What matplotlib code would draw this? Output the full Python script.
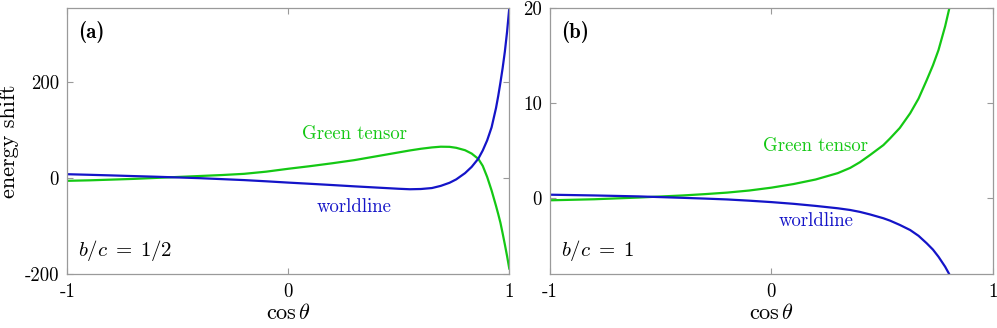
import numpy as np
import matplotlib
matplotlib.use("Agg")
import matplotlib.pyplot as plt

# values
x_a = [-1.0, -0.9, -0.8, -0.7, -0.6, -0.5, -0.4, -0.3, -0.2, -0.1, 0.0, 0.1, 0.2,
       0.3, 0.4, 0.5, 0.55, 0.6, 0.65, 0.69, 0.73, 0.76, 0.8, 0.83, 0.86, 0.88,
       0.9, 0.92, 0.94, 0.95, 0.96, 0.97, 0.98, 0.99, 1.0]
worldline_a = [7.7, 6.5, 5.2, 3.8, 2.5, 1.0, -0.5, -2.5, -4.5, -7.0, -9.7, -12.2,
               -14.8, -17.5, -20.0, -22.5, -23.5, -23.0, -21.0, -16.5, -10.0, -3.0,
               10.0, 23.0, 40.0, 57.0, 78.0, 105.0, 145.0, 170.0, 198.0, 228.0,
               262.0, 303.0, 352.0]
green_a = [-6.0, -5.0, -3.5, -2.0, 0.0, 2.0, 4.0, 6.0, 8.5, 13.0, 19.0, 24.5, 30.5,
           37.0, 45.0, 53.0, 57.0, 60.5, 63.3, 64.8, 64.5, 62.5, 57.5, 50.5, 39.5,
           25.0, 2.0, -26.0, -58.0, -75.0, -93.0, -115.0, -138.0, -162.0, -188.0]

x_b = [-1.0, -0.8, -0.6, -0.4, -0.3, -0.2, -0.1, 0.0, 0.1, 0.2, 0.3, 0.356,
       0.4, 0.446, 0.506, 0.536, 0.58, 0.627, 0.665, 0.702, 0.73, 0.755, 0.785,
       0.804, 0.83, 0.85]
worldline_b = [0.38, 0.3, 0.2, 0.05, -0.03, -0.12, -0.25, -0.4, -0.58, -0.8, -1.05,
               -1.23, -1.43, -1.7, -2.1, -2.35, -2.8, -3.34, -3.95, -4.74, -5.4,
               -6.15, -7.2, -8.0, -9.4, -11.0]
green_b = [-0.21, -0.1, 0.08, 0.3, 0.44, 0.6, 0.82, 1.12, 1.5, 1.98, 2.65, 3.2,
           3.8, 4.56, 5.6, 6.3, 7.4, 8.95, 10.5, 12.45, 14.0, 15.6, 18.1, 20.0,
           23.0, 26.0]

xticks = [-1, 0, 1]
xticklabels = ['-1', '0', '1']
yticks_a = [-200, 0, 200]
yticklabels_a = ['-200', '0', '200']
yticks_b = [0, 10, 20]
yticklabels_b = ['0', '10', '20']

plt.rcParams['font.family'] = ['cmr10', 'DejaVu Serif']
plt.rcParams['mathtext.fontset'] = 'cm'
plt.rcParams['axes.unicode_minus'] = False

BLUE = '#1414c8'
GREEN = '#14c814'
GRAY = '#9a9a9a'

fig = plt.figure(figsize=(9.97, 3.28), dpi=100)
ax1 = fig.add_axes([0.0675, 0.1637, 0.4433, 0.811])
ax2 = fig.add_axes([0.5517, 0.1637, 0.444, 0.811])


def style(ax, yticks, ylabels, ylim):
    ax.set_xlim(-1, 1)
    ax.set_ylim(*ylim)
    ax.set_xticks(xticks)
    ax.set_xticklabels(xticklabels)
    ax.set_yticks(yticks)
    ax.set_yticklabels(ylabels)
    ax.tick_params(direction='in', length=4, width=0.8, color=GRAY,
                   top=True, right=True, labelsize=13.5, pad=6)
    for s in ax.spines.values():
        s.set_color(GRAY)
        s.set_linewidth(0.9)
    ax.set_xlabel(r'$\cos\theta$', fontsize=16, labelpad=2)


ax1.plot(x_a, green_a, color=GREEN, lw=1.6)
ax1.plot(x_a, worldline_a, color=BLUE, lw=1.6)
style(ax1, yticks_a, yticklabels_a, (-200, 352))
ax1.set_ylabel('energy shift', fontsize=16, labelpad=4)
ax1.text(0.30, 91, 'Green tensor', color=GREEN, fontsize=13.5, ha='center', va='center')
ax1.text(0.30, -60, 'worldline', color=BLUE, fontsize=13.5, ha='center', va='center')
ax1.text(0.024, 0.91, '(a)', transform=ax1.transAxes, fontsize=15,
         family=['cmb10', 'DejaVu Serif'], ha='left', va='center')
ax1.text(0.024, 0.09, r'$b/c\;=\;1/2$', transform=ax1.transAxes, fontsize=15,
         ha='left', va='center')

ax2.plot(x_b, green_b, color=GREEN, lw=1.6)
ax2.plot(x_b, worldline_b, color=BLUE, lw=1.6)
style(ax2, yticks_b, yticklabels_b, (-8, 20))
ax2.text(0.20, 5.5, 'Green tensor', color=GREEN, fontsize=13.5, ha='center', va='center')
ax2.text(0.20, -2.4, 'worldline', color=BLUE, fontsize=13.5, ha='center', va='center')
ax2.text(0.024, 0.91, '(b)', transform=ax2.transAxes, fontsize=15,
         family=['cmb10', 'DejaVu Serif'], ha='left', va='center')
ax2.text(0.024, 0.09, r'$b/c\;=\;1$', transform=ax2.transAxes, fontsize=15,
         ha='left', va='center')

fig.savefig('out.png', dpi=100)
